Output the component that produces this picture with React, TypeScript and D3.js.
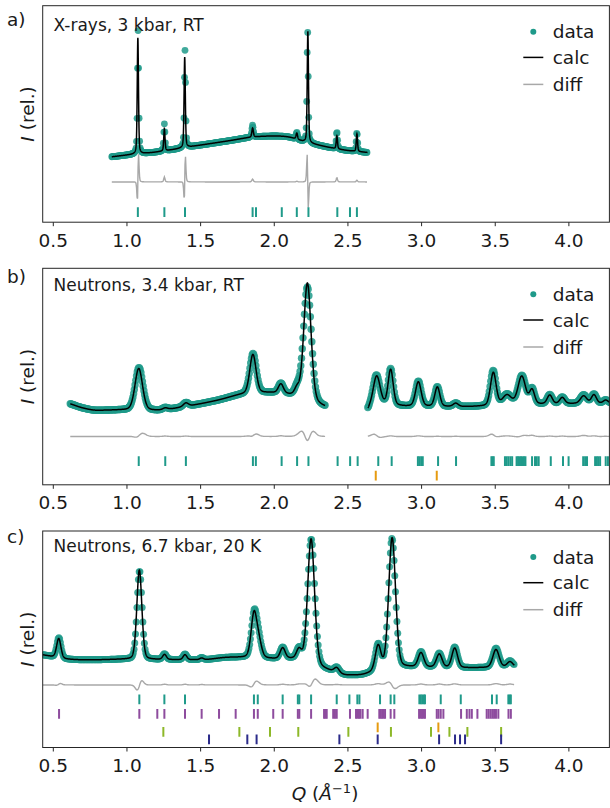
import React from 'react';
import * as d3 from 'd3';

// ---------- Panel a: X-rays, 3 kbar, RT ----------
const aSegments = [[0.897, 2.633]];
const aBgQ = [0.897, 1.0, 1.2, 1.5, 1.7, 1.85, 2.0, 2.1, 2.2, 2.3, 2.4, 2.5, 2.633];
const aBgI = [30.2, 31.0, 32.4, 35.6, 37.7, 39.3, 39.8, 39.3, 37.2, 35.6, 34.2, 33.1, 32.2];
const aPeakQ = [1.074, 1.254, 1.392, 1.853, 2.153, 2.228, 2.425, 2.561];
const aPeakH = [53.7, 10.2, 41.9, 4.2, 2.9, 51.5, 6.0, 8.2];
const aPeakW = [0.010, 0.010, 0.010, 0.012, 0.012, 0.010, 0.010, 0.010];
const aObsH = [57, 12.5, 45, 5.5, 3.2, 52, 8, 9];
const aObsW = [0.010, 0.010, 0.010, 0.012, 0.012, 0.010, 0.010, 0.010];
const aObsDQ = [0.0015, 0, 0.0018, 0, 0, -0.0018, 0, 0];
const aTeal = [1.074, 1.254, 1.394, 1.853, 1.876, 2.051, 2.153, 2.232, 2.428, 2.514, 2.561];

// ---------- Panel b: Neutrons, 3.4 kbar, RT ----------
const bSegments = [[0.615, 2.345], [2.635, 4.3]];
const bBgQ = [0.615, 0.7, 0.8, 1.0, 1.2, 1.4, 1.6, 1.8, 1.95, 2.1, 2.3, 2.345, 2.635, 2.65, 2.9, 3.3, 3.5, 3.9, 4.3];
const bBgI = [37.4, 35.5, 34.4, 34.6, 34.4, 36.2, 38.8, 42.0, 42.5, 41.5, 37.0, 36.0, 34.5, 35.5, 36.3, 36.1, 36.6, 37.4, 37.6];
const bPeakQ = [1.08, 1.26, 1.40, 1.855, 2.045, 2.155, 2.225, 2.695, 2.79, 2.978, 3.107, 3.232, 3.487, 3.58, 3.68, 3.75, 3.87, 3.955, 4.10, 4.17, 4.25];
const bPeakH = [19.2, 0.8, 1.6, 17.8, 4.2, 3.5, 54.3, 13.5, 16.2, 11.2, 8.9, 1.5, 15.2, 4.5, 13.0, 6.5, 4.0, 2.8, 3.5, 4.0, 1.5];
const bPeakW = [0.06, 0.04, 0.04, 0.05, 0.04, 0.04, 0.058, 0.055, 0.04, 0.045, 0.04, 0.04, 0.045, 0.07, 0.06, 0.04, 0.04, 0.04, 0.05, 0.04, 0.04];
const bObsH = [19.6, 1.0, 1.8, 18.2, 4.5, 3.8, 52.5, 14.0, 16.5, 11.5, 9.0, 1.6, 16.0, 4.8, 13.3, 7.0, 4.2, 3.0, 4.0, 4.3, 1.6];
const bObsW = [0.062, 0.04, 0.04, 0.052, 0.04, 0.04, 0.063, 0.055, 0.04, 0.045, 0.04, 0.04, 0.045, 0.07, 0.06, 0.04, 0.04, 0.04, 0.05, 0.04, 0.04];
const bObsDQ = [0.002, 0, 0, 0.001, 0, 0, 0, -0.002, 0, 0, 0, 0, -0.001, 0, 0.001, 0, 0, 0, 0, 0, 0];
const bTeal = [1.08, 1.26, 1.40, 1.855, 1.875, 2.05, 2.155, 2.232, 2.43, 2.515, 2.566, 2.706, 2.797, 2.975, 2.985, 2.997, 3.008,
  3.112, 3.234, 3.474, 3.482, 3.49, 3.566, 3.578, 3.59, 3.603, 3.615, 3.645, 3.655, 3.665, 3.675, 3.685, 3.695, 3.705,
  3.75, 3.77, 3.782, 3.795, 3.877, 3.96, 3.998, 4.097, 4.11, 4.123, 4.178, 4.19, 4.2, 4.212, 4.25, 4.265];
const bOrange = [2.689, 3.103];

// ---------- Panel c: Neutrons, 6.7 kbar, 20 K ----------
const cSegments = [[0.428, 3.63]];
const cBgQ = [0.428, 0.5, 0.6, 1.0, 1.5, 1.7, 1.8, 2.0, 2.15, 2.3, 2.4, 2.5, 2.6, 2.7, 2.85, 3.0, 3.3, 3.63];
const cBgI = [42.8, 41.9, 40.8, 40.7, 40.5, 41.6, 41.6, 40.9, 40.5, 37.0, 34.9, 33.3, 33.5, 35.3, 36.8, 37.0, 36.8, 37.2];
const cPeakQ = [0.537, 1.084, 1.255, 1.394, 1.507, 1.862, 1.895, 2.057, 2.168, 2.25, 2.424, 2.705, 2.8, 2.996, 3.12, 3.225, 3.505, 3.6];
const cPeakH = [8.9, 41.3, 2.3, 2.3, 0.8, 19.8, 7.0, 4.9, 4.6, 58.0, 2.2, 11.2, 60.3, 6.6, 6.1, 9.0, 8.2, 2.4];
const cPeakW = [0.034, 0.04, 0.03, 0.03, 0.03, 0.045, 0.045, 0.04, 0.04, 0.055, 0.04, 0.045, 0.055, 0.045, 0.045, 0.045, 0.05, 0.045];
const cObsH = [9.3, 41.0, 2.6, 2.6, 1.0, 20.3, 7.3, 5.2, 5.0, 58.0, 2.4, 11.8, 60.0, 7.0, 6.5, 9.5, 8.8, 2.8];
const cObsW = [0.034, 0.04, 0.03, 0.03, 0.03, 0.045, 0.045, 0.04, 0.04, 0.057, 0.04, 0.045, 0.055, 0.045, 0.045, 0.045, 0.05, 0.045];
const cObsDQ = [0.001, 0.0015, 0, 0, 0, 0.002, 0, 0, 0, 0.001, 0, 0, -0.001, 0, 0, 0, 0, 0];
const cTeal = [1.084, 1.254, 1.394, 1.862, 1.888, 2.057, 2.16, 2.17, 2.25, 2.424, 2.51, 2.564, 2.578, 2.718, 2.79, 2.815,
  2.985, 2.995, 3.005, 3.015, 3.023, 3.13, 3.266, 3.478, 3.51, 3.589, 3.598, 3.606];
const cPurple = [0.539, 1.084, 1.206, 1.254, 1.394, 1.507, 1.625, 1.738, 1.862, 1.888, 1.993, 2.057, 2.16, 2.17, 2.25,
  2.338, 2.347, 2.356, 2.40, 2.412, 2.424, 2.514, 2.555, 2.565, 2.575, 2.585, 2.6, 2.634, 2.713, 2.722, 2.732, 2.742, 2.752,
  2.79, 2.815, 2.983, 2.993, 3.003, 3.013, 3.023, 3.103, 3.115, 3.13, 3.148, 3.268, 3.307, 3.325, 3.341, 3.379,
  3.442, 3.455, 3.468, 3.48, 3.492, 3.505, 3.521, 3.59, 3.606];
const cLime = [1.247, 1.763, 1.971, 2.163, 2.503, 2.792, 3.064, 3.189, 3.311, 3.54];
const cOrange = [2.702, 3.114];
const cBlue = [1.557, 1.817, 1.88, 2.442, 2.702, 3.119, 3.227, 3.261, 3.295, 3.54];

const xTicks = [0.5, 1.0, 1.5, 2.0, 2.5, 3.0, 3.5, 4.0];

// ---------- style ----------
const TEAL = '#1f9a8a';
const PURPLE = '#8e4c9e';
const LIME = '#8db829';
const ORANGE = '#e69b10';
const BLUE = '#2b2b8a';
const DIFF = '#a8a8a8';
const FONT = 'DejaVu Sans, sans-serif';

const PLOT_L = 42.7, PLOT_R = 609.4, PANEL_H = 216.5;

function monotone(xs: number[], ys: number[]) {
  const n = xs.length;
  const d: number[] = [];
  const m: number[] = [];
  for (let i = 0; i < n - 1; i++) d.push((ys[i + 1] - ys[i]) / (xs[i + 1] - xs[i]));
  m[0] = d[0]; m[n - 1] = d[n - 2];
  for (let i = 1; i < n - 1; i++) m[i] = d[i - 1] * d[i] <= 0 ? 0 : (d[i - 1] + d[i]) / 2;
  return (x: number) => {
    if (x <= xs[0]) return ys[0];
    if (x >= xs[n - 1]) return ys[n - 1];
    const i = Math.min(n - 2, d3.bisectRight(xs, x) - 1);
    const h = xs[i + 1] - xs[i];
    const t = (x - xs[i]) / h, t2 = t * t, t3 = t2 * t;
    return (2 * t3 - 3 * t2 + 1) * ys[i] + (t3 - 2 * t2 + t) * h * m[i] + (-2 * t3 + 3 * t2) * ys[i + 1] + (t3 - t2) * h * m[i + 1];
  };
}

function profile(q: number, pos: number[], hs: number[], ws: number[], dq: number[] | null, eta: number) {
  let s = 0;
  for (let i = 0; i < pos.length; i++) {
    const t = (q - pos[i] - (dq ? dq[i] : 0)) / ws[i];
    s += hs[i] * (eta / (1 + 4 * t * t) + (1 - eta) * Math.exp(-4 * Math.LN2 * t * t));
  }
  return s;
}

type Row = { ticks: number[]; y: number; color: string };
type PanelCfg = {
  key: string; letter: string; title: string; top: number; letterY: number; titleY: number;
  segments: number[][]; bgQ: number[]; bgI: number[]; pq: number[]; ph: number[]; pw: number[];
  oh: number[]; ow: number[]; odq: number[];
  eta: number; step: number; r: number; diffOff: number; rows: Row[];
};

const panels: PanelCfg[] = [
  { key: 'a', letter: 'a)', title: 'X-rays, 3 kbar, RT', top: 5.7, letterY: 26, titleY: 30.5,
    segments: aSegments, bgQ: aBgQ, bgI: aBgI, pq: aPeakQ, ph: aPeakH, pw: aPeakW, oh: aObsH, ow: aObsW, odq: aObsDQ,
    eta: 0.4, step: 0.0035, r: 3.4, diffOff: 18.6, rows: [{ ticks: aTeal, y: 4.6, color: TEAL }] },
  { key: 'b', letter: 'b)', title: 'Neutrons, 3.4 kbar, RT', top: 268.3, letterY: 282.7, titleY: 290.6,
    segments: bSegments, bgQ: bBgQ, bgI: bBgI, pq: bPeakQ, ph: bPeakH, pw: bPeakW, oh: bObsH, ow: bObsW, odq: bObsDQ,
    eta: 0.2, step: 0.005, r: 3.7, diffOff: 22.3, rows: [{ ticks: bTeal, y: 10.9, color: TEAL }, { ticks: bOrange, y: 4.2, color: ORANGE }] },
  { key: 'c', letter: 'c)', title: 'Neutrons, 6.7 kbar, 20 K', top: 531, letterY: 542.7, titleY: 552.3,
    segments: cSegments, bgQ: cBgQ, bgI: cBgI, pq: cPeakQ, ph: cPeakH, pw: cPeakW, oh: cObsH, ow: cObsW, odq: cObsDQ,
    eta: 0.2, step: 0.005, r: 3.5, diffOff: 28.9,
    rows: [{ ticks: cTeal, y: 22.2, color: TEAL }, { ticks: cPurple, y: 15.5, color: PURPLE },
      { ticks: cOrange, y: 9.3, color: ORANGE }, { ticks: cLime, y: 7.2, color: LIME }, { ticks: cBlue, y: 3.8, color: BLUE }] },
];

const x = d3.scaleLinear().domain([0.428, 4.275]).range([PLOT_L, PLOT_R]);

function Panel({ p }: { p: PanelCfg }) {
  const bottom = p.top + PANEL_H;
  const y = d3.scaleLinear().domain([0, 100]).range([bottom, p.top]);
  const bg = monotone(p.bgQ, p.bgI);
  const calcAt = (q: number) => bg(q) + profile(q, p.pq, p.ph, p.pw, null, p.eta);
  const obsAt = (q: number) => bg(q) + profile(q, p.pq, p.oh, p.ow, p.odq, p.eta);
  const line = d3.line<[number, number]>().x(d => x(d[0])).y(d => y(d[1]));
  const calcPaths: string[] = [];
  const diffPaths: string[] = [];
  const dots: [number, number][] = [];
  p.segments.forEach(([q0, q1]) => {
    const fine = d3.range(q0, q1, 0.0008).concat([q1]);
    calcPaths.push(line(fine.map(q => [q, calcAt(q)] as [number, number])) || '');
    const coarse = d3.range(q0, q1, p.step);
    coarse.forEach(q => dots.push([q, obsAt(q)]));
    diffPaths.push(line(coarse.map(q => [q, p.diffOff + obsAt(q) - calcAt(q)] as [number, number])) || '');
  });
  const clipId = `clip-${p.key}`;
  const lx = 523.3, tx = 552.7;
  const legY = [p.top + 26, p.top + 51.7, p.top + 78.7];
  return (
    <g>
      <defs>
        <clipPath id={clipId}><rect x={PLOT_L} y={p.top} width={PLOT_R - PLOT_L} height={PANEL_H} /></clipPath>
      </defs>
      <g clipPath={`url(#${clipId})`}>
        {diffPaths.map((d, i) => <path key={'d' + i} d={d} fill="none" stroke={DIFF} strokeWidth={1.4} />)}
        {dots.map((d, i) => <circle key={i} cx={x(d[0])} cy={y(d[1])} r={p.r} fill={TEAL} fillOpacity={0.85} />)}
        {calcPaths.map((d, i) => <path key={'c' + i} d={d} fill="none" stroke="#000" strokeWidth={1.5} />)}
        {p.rows.map((r, ri) => r.ticks.map((q, i) => (
          <line key={ri + '-' + i} x1={x(q)} x2={x(q)} y1={y(r.y - 2.25)} y2={y(r.y + 2.25)} stroke={r.color} strokeWidth={2} />
        )))}
      </g>
      <rect x={PLOT_L} y={p.top} width={PLOT_R - PLOT_L} height={PANEL_H} fill="none" stroke="#262626" strokeWidth={1} />
      {xTicks.map(t => (
        <g key={t}>
          <line x1={x(t)} x2={x(t)} y1={bottom} y2={bottom + 4} stroke="#262626" strokeWidth={1} />
          <text x={x(t)} y={bottom + 24.5} textAnchor="middle" fontSize={18.5} fontFamily={FONT} fill="#1a1a1a">{t.toFixed(1)}</text>
        </g>
      ))}
      <text x={7} y={p.letterY} fontSize={18.5} fontFamily={FONT} fill="#1a1a1a">{p.letter}</text>
      <text x={53.5} y={p.titleY} fontSize={17} fontFamily={FONT} fill="#1a1a1a">{p.title}</text>
      <text transform={`translate(33.5,${p.top + PANEL_H / 2}) rotate(-90)`} textAnchor="middle" fontSize={18.5} fontFamily={FONT} fill="#1a1a1a">
        <tspan fontStyle="italic">I</tspan> (rel.)
      </text>
      <circle cx={lx + 10} cy={legY[0]} r={3} fill={TEAL} />
      <line x1={lx} x2={lx + 20} y1={legY[1]} y2={legY[1]} stroke="#000" strokeWidth={1.5} />
      <line x1={lx} x2={lx + 20} y1={legY[2]} y2={legY[2]} stroke={DIFF} strokeWidth={1.5} />
      {['data', 'calc', 'diff'].map((s, i) => (
        <text key={s} x={tx} y={legY[i] + 6.6} fontSize={18.5} fontFamily={FONT} fill="#1a1a1a">{s}</text>
      ))}
    </g>
  );
}

export default function App() {
  return (
    <svg width={610} height={808} viewBox="0 0 610 808" style={{ position: 'absolute', left: 0, top: 0, background: '#fff' }}>
      <rect x={0} y={0} width={610} height={808} fill="#fff" />
      {panels.map(p => <Panel key={p.key} p={p} />)}
      <text x={325} y={800} textAnchor="middle" fontSize={18.5} fontFamily={FONT} fill="#1a1a1a">
        <tspan fontStyle="italic">Q</tspan> (<tspan fontStyle="italic">Å</tspan><tspan dy={-7} fontSize={13}>−1</tspan><tspan dy={7}>)</tspan>
      </text>
    </svg>
  );
}
